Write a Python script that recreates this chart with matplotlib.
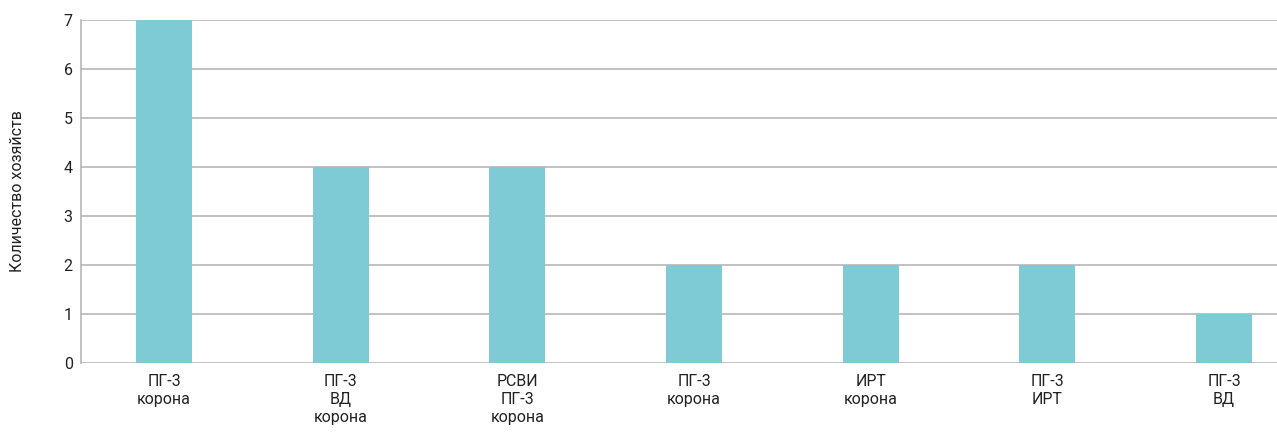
import matplotlib
matplotlib.use("Agg")
import matplotlib.pyplot as plt

categories = ["ПГ-3\nкорона", "ПГ-3\nВД\nкорона", "РСВИ\nПГ-3\nкорона", "ПГ-3\nкорона",
              "ИРТ\nкорона", "ПГ-3\nИРТ", "ПГ-3\nВД"]
values = [7, 4, 4, 2, 2, 2, 1]
yticks = [0, 1, 2, 3, 4, 5, 6, 7]

plt.rcParams['font.family'] = ['Roboto', 'DejaVu Sans']

fig = plt.figure(figsize=(12.77, 4.37), dpi=100)
ax = fig.add_axes([81/1277, 1 - 363/437, (1277 - 81)/1277, (363 - 20)/437])

x = list(range(len(categories)))
ax.bar(x, values, width=0.317, color="#7ecad5", zorder=3)
ax.set_xlim(-0.47, 6.3)
ax.set_ylim(0, 7)
ax.set_yticks(yticks)
ax.set_yticklabels([str(v) for v in yticks], fontsize=11.5, color="#222222")
ax.set_xticks(x)
ax.set_xticklabels(categories, fontsize=11.5, color="#222222", linespacing=1.25)
ax.tick_params(axis='both', length=0)
ax.tick_params(axis='x', pad=8)
ax.tick_params(axis='y', pad=6)
ax.grid(axis='y', color="#b0b0b0", linewidth=1.1, zorder=0)
for s in ['top', 'right']:
    ax.spines[s].set_visible(False)
ax.spines['bottom'].set_visible(False)
ax.spines['left'].set_color("#b0b0b0")
ax.spines['left'].set_linewidth(1.1)
ax.set_ylabel("Количество хозяйств", fontsize=11.5, color="#222222", labelpad=28)

fig.savefig("out.png", dpi=100)
